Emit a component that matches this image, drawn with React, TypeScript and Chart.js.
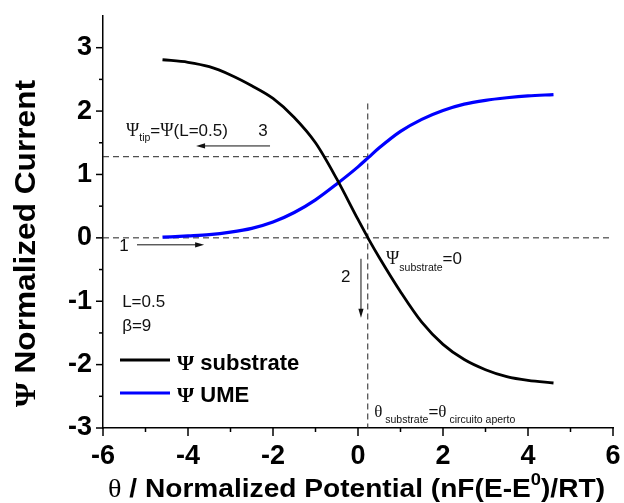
import React, { useEffect, useRef } from 'react';
import { Chart, registerables } from 'chart.js';

Chart.register(...registerables);

// ---- data ----
const thetaValues = [-4.6, -4.0, -3.5, -3.0, -2.5, -2.0, -1.5, -1.0, -0.5, 0, 0.25, 0.5, 1.0, 1.5, 2.0, 2.5, 3.0, 3.5, 4.0, 4.6];
const psiSubstrate = [2.81, 2.77, 2.70, 2.57, 2.40, 2.20, 1.90, 1.50, 0.93, 0.29, -0.02, -0.31, -0.85, -1.33, -1.68, -1.92, -2.08, -2.19, -2.25, -2.29];
const psiUME = [0.01, 0.03, 0.05, 0.09, 0.15, 0.25, 0.40, 0.60, 0.85, 1.12, 1.27, 1.42, 1.68, 1.87, 2.01, 2.11, 2.17, 2.21, 2.24, 2.26];

const xTickLabels = [-6, -4, -2, 0, 2, 4, 6];
const yTickLabels = [-3, -2, -1, 0, 1, 2, 3];

const psiTipLevel = 1.28;      // horizontal dashed guide
const thetaOpenCircuit = 0.23; // vertical dashed guide
const verticalGuideTop = 2.12;

const SANS = '"Liberation Sans", Arial, sans-serif';
const SERIF = '"Liberation Serif", "Times New Roman", serif';

type Seg = [string, string, number?];

function segWidth(ctx: CanvasRenderingContext2D, segs: Seg[]) {
  let w = 0;
  for (const [t, f] of segs) {
    ctx.font = f;
    w += ctx.measureText(t).width;
  }
  return w;
}

function drawRich(ctx: CanvasRenderingContext2D, x: number, y: number, segs: Seg[], sx = 1) {
  ctx.save();
  ctx.translate(x, y);
  ctx.scale(sx, 1);
  ctx.textAlign = 'left';
  ctx.textBaseline = 'alphabetic';
  let cx = 0;
  for (const [t, f, dy] of segs) {
    ctx.font = f;
    ctx.fillText(t, cx, dy || 0);
    cx += ctx.measureText(t).width;
  }
  ctx.restore();
}

function arrow(ctx: CanvasRenderingContext2D, x1: number, y1: number, x2: number, y2: number) {
  const ang = Math.atan2(y2 - y1, x2 - x1);
  const len = 9, hw = 2.6;
  ctx.beginPath();
  ctx.moveTo(x1, y1);
  ctx.lineTo(x2 - Math.cos(ang) * len * 0.8, y2 - Math.sin(ang) * len * 0.8);
  ctx.stroke();
  ctx.beginPath();
  ctx.moveTo(x2, y2);
  ctx.lineTo(x2 - Math.cos(ang) * len - Math.sin(ang) * hw, y2 - Math.sin(ang) * len + Math.cos(ang) * hw);
  ctx.lineTo(x2 - Math.cos(ang) * len + Math.sin(ang) * hw, y2 - Math.sin(ang) * len - Math.cos(ang) * hw);
  ctx.closePath();
  ctx.fill();
}

const overlay = {
  id: 'overlay',
  afterDraw(chart: any) {
    const ctx: CanvasRenderingContext2D = chart.ctx;
    const xs = chart.scales.x;
    const ys = chart.scales.y;
    const px = (v: number) => xs.getPixelForValue(v);
    const py = (v: number) => ys.getPixelForValue(v);
    ctx.save();
    ctx.strokeStyle = '#000';
    ctx.fillStyle = '#000';
    ctx.lineWidth = 1.5;
    // tick marks (outward)
    for (const t of xs.ticks) {
      const major = xTickLabels.includes(t.value);
      const x = px(t.value);
      ctx.beginPath();
      ctx.moveTo(x, xs.top);
      ctx.lineTo(x, xs.top + (major ? 8 : 4));
      ctx.stroke();
    }
    for (const t of ys.ticks) {
      if (t.value > 3) continue;
      const major = yTickLabels.includes(t.value);
      const y = py(t.value);
      ctx.beginPath();
      ctx.moveTo(ys.right - (major ? 7 : 4), y);
      ctx.lineTo(ys.right, y);
      ctx.stroke();
    }

    // axis titles
    const xt: Seg[] = [
      ['θ', `26px ${SERIF}`],
      [' / Normalized Potential (nF(E-E', `bold 26px ${SANS}`],
      ['0', `bold 17px ${SANS}`, -12],
      [')/RT)', `bold 26px ${SANS}`],
    ];
    const xtw = segWidth(ctx, xt);
    drawRich(ctx, 108, 497, xt, 497 / xtw);

    const yt: Seg[] = [
      ['Ψ', `bold 30px ${SERIF}`],
      [' Normalized Current', `bold 30px ${SANS}`],
    ];
    const ytw = segWidth(ctx, yt);
    ctx.save();
    ctx.translate(35, 407);
    ctx.rotate(-Math.PI / 2);
    drawRich(ctx, 0, 0, yt, 327 / ytw);
    ctx.restore();

    // annotations
    ctx.lineWidth = 1;
    ctx.fillStyle = '#111';
    ctx.strokeStyle = '#111';
    arrow(ctx, px(-5.2), py(-0.11), px(-3.62), py(-0.11));
    arrow(ctx, px(-2.07), py(1.45), px(-3.81), py(1.45));
    arrow(ctx, px(0.07), py(-0.33), px(0.07), py(-1.26));

    const r17 = `17px ${SANS}`;
    const s18 = `18px ${SERIF}`;
    const sub = `10.5px ${SANS}`;
    drawRich(ctx, px(-5.62), py(-0.2), [['1', r17]]);
    drawRich(ctx, px(-2.35), py(1.61), [['3', r17]]);
    drawRich(ctx, px(-0.4), py(-0.69), [['2', r17]]);
    drawRich(ctx, px(-5.46), py(1.61), [
      ['Ψ', s18], ['tip', sub, 5], ['=', r17], ['Ψ', s18], ['(L=0.5)', r17],
    ]);
    drawRich(ctx, px(0.66), py(-0.41), [
      ['Ψ', s18], ['substrate', sub, 7], ['=0', r17],
    ]);
    drawRich(ctx, px(0.38), py(-2.83), [
      ['θ', `17px ${SERIF}`], [' substrate', sub, 6], ['=', r17], ['θ', `17px ${SERIF}`], [' circuito aperto', sub, 6],
    ]);
    drawRich(ctx, px(-5.55), py(-1.09), [['L=0.5', r17]]);
    drawRich(ctx, px(-5.55), py(-1.47), [['β=9', r17]]);

    // legend
    ctx.fillStyle = '#000';
    ctx.lineWidth = 2.8;
    ctx.strokeStyle = '#000';
    ctx.beginPath();
    ctx.moveTo(120, 360);
    ctx.lineTo(170, 360);
    ctx.stroke();
    ctx.lineWidth = 3.2;
    ctx.strokeStyle = '#0000ff';
    ctx.beginPath();
    ctx.moveTo(120, 393);
    ctx.lineTo(170, 393);
    ctx.stroke();
    drawRich(ctx, 177, 370, [['Ψ', `bold 22px ${SERIF}`], [' substrate', `bold 22px ${SANS}`]]);
    drawRich(ctx, 177, 402, [['Ψ', `bold 22px ${SERIF}`], [' UME', `bold 22px ${SANS}`]]);
    ctx.restore();
  },
};

const zeroPad = (s: any) => {
  s.paddingTop = 0;
  s.paddingBottom = 0;
  s.paddingLeft = 0;
  s.paddingRight = 0;
};

export default function App() {
  const ref = useRef<HTMLCanvasElement>(null);
  useEffect(() => {
    if (!ref.current) return;
    const toPts = (ys: number[]) => thetaValues.map((x, i) => ({ x, y: ys[i] }));
    const dashed = {
      borderColor: '#222',
      borderWidth: 1,
      borderDash: [6, 4],
      pointRadius: 0,
      fill: false,
      order: 2,
    };
    const chart = new Chart(ref.current, {
      type: 'line',
      data: {
        datasets: [
          { ...dashed, data: [{ x: -6, y: 0 }, { x: 6, y: 0 }] },
          { ...dashed, data: [{ x: -6, y: psiTipLevel }, { x: thetaOpenCircuit, y: psiTipLevel }] },
          { ...dashed, data: [{ x: thetaOpenCircuit, y: verticalGuideTop }, { x: thetaOpenCircuit, y: -3 }] },
          {
            label: 'Ψ substrate',
            data: toPts(psiSubstrate),
            borderColor: '#000',
            borderWidth: 2.8,
            pointRadius: 0,
            cubicInterpolationMode: 'monotone',
            fill: false,
            order: 0,
          },
          {
            label: 'Ψ UME',
            data: toPts(psiUME),
            borderColor: '#0000ff',
            borderWidth: 3.2,
            pointRadius: 0,
            cubicInterpolationMode: 'monotone',
            fill: false,
            order: 0,
          },
        ],
      } as any,
      options: {
        responsive: false,
        animation: false,
        layout: { padding: { left: 0, right: 11, top: 16, bottom: 0 } },
        plugins: { legend: { display: false }, tooltip: { enabled: false } },
        scales: {
          x: {
            type: 'linear',
            min: -6,
            max: 6,
            ticks: {
              stepSize: 1,
              autoSkip: false,
              maxRotation: 0,
              padding: 12,
              color: '#000',
              font: { family: SANS, weight: 'bold', size: 27 },
              callback: (v: any) => (xTickLabels.includes(v) ? String(v) : ''),
            },
            grid: { display: false, drawTicks: false },
            border: { display: true, color: '#000', width: 1.5 },
            afterFit: (s: any) => { s.height = 75; zeroPad(s); },
          },
          y: {
            type: 'linear',
            min: -3,
            max: 3.5,
            ticks: {
              stepSize: 0.5,
              autoSkip: false,
              padding: 11,
              color: '#000',
              font: { family: SANS, weight: 'bold', size: 27 },
              callback: (v: any) => (yTickLabels.includes(v) ? String(v) : ''),
            },
            grid: { display: false, drawTicks: false },
            border: { display: true, color: '#000', width: 1.5 },
            afterFit: (s: any) => { s.width = 103; zeroPad(s); },
          },
        },
      } as any,
      plugins: [overlay],
    });
    return () => chart.destroy();
  }, []);
  return (
    <div style={{ position: 'fixed', left: 0, top: 0, width: 624, height: 503, background: '#fff' }}>
      <canvas ref={ref} width={624} height={503} />
    </div>
  );
}
